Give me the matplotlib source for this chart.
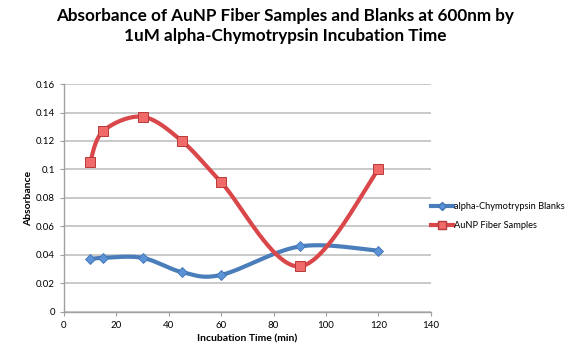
import numpy as np
import matplotlib
matplotlib.use("Agg")
import matplotlib.pyplot as plt
from matplotlib.lines import Line2D

time_min = [10, 15, 30, 45, 60, 90, 120]
blanks = [0.037, 0.038, 0.038, 0.028, 0.026, 0.046, 0.043]
fiber = [0.105, 0.127, 0.137, 0.120, 0.091, 0.032, 0.100]
blank_label = "alpha-Chymotrypsin Blanks"
fiber_label = "AuNP Fiber Samples"
title = "Absorbance of AuNP Fiber Samples and Blanks at 600nm by\n1uM alpha-Chymotrypsin Incubation Time"
x_ticks = [0, 20, 40, 60, 80, 100, 120, 140]
y_ticks = [0, 0.02, 0.04, 0.06, 0.08, 0.1, 0.12, 0.14, 0.16]
y_tick_labels = ["0", "0.02", "0.04", "0.06", "0.08", "0.1", "0.12", "0.14", "0.16"]

plt.rcParams['font.family'] = ['Lato', 'DejaVu Sans']


def smooth(xs, ys, n=40):
    xs = np.asarray(xs, float)
    ys = np.asarray(ys, float)
    P = np.column_stack([xs, ys])
    m = len(P)
    out = []
    for i in range(m - 1):
        p0 = P[i - 1] if i > 0 else P[i]
        p1 = P[i]
        p2 = P[i + 1]
        p3 = P[i + 2] if i + 2 < m else P[i + 1]
        c1 = p1 + (p2 - p0) / 6.0
        c2 = p2 - (p3 - p1) / 6.0
        t = np.linspace(0, 1, n)[:, None]
        seg = ((1 - t) ** 3) * p1 + 3 * ((1 - t) ** 2) * t * c1 + 3 * (1 - t) * t ** 2 * c2 + t ** 3 * p2
        out.append(seg if i == 0 else seg[1:])
    S = np.vstack(out)
    return S[:, 0], S[:, 1]


fig = plt.figure(figsize=(5.7, 3.59), dpi=100)
ax = fig.add_axes([0.112, 0.131, 0.644, 0.635])

blue = "#4a7ebb"
red = "#d9474a"

bx, by = smooth(time_min, blanks)
ax.plot(bx, by, color=blue, lw=3, zorder=3, solid_capstyle='round')
ax.plot(time_min, blanks, ls='none', marker='D', ms=5.5, mfc="#5b93d6", mec="#3f74b5", mew=0.6, zorder=4)
fx, fy = smooth(time_min, fiber)
ax.plot(fx, fy, color=red, lw=3, zorder=3, solid_capstyle='round')
ax.plot(time_min, fiber, ls='none', marker='s', ms=7.5, mfc="#f06a6a", mec="#b83a3a", mew=0.7, zorder=4)

ax.set_xlim(0, 140)
ax.set_ylim(0, 0.16)
ax.set_xticks(x_ticks)
ax.set_yticks(y_ticks)
ax.set_yticklabels(y_tick_labels)
ax.grid(axis='y', color='#c0c0c0', lw=1.2)
ax.set_axisbelow(True)
for s in ['top', 'right']:
    ax.spines[s].set_visible(False)
for s in ['left', 'bottom']:
    ax.spines[s].set_color('#a0a0a0')
    ax.spines[s].set_linewidth(1)
ax.tick_params(axis='both', labelsize=7, colors='#a0a0a0', labelcolor='black', length=3, direction='out')
ax.set_xlabel("Incubation Time (min)", fontsize=7.5, fontweight='bold', labelpad=3)
ax.set_ylabel("Absorbance", fontsize=7.5, fontweight='bold', labelpad=2)

fig.text(0.5, 0.978, title, ha='center', va='top', fontsize=12.3, fontweight='bold', linespacing=1.3,
         multialignment='center')

handles = [
    Line2D([0], [0], color=blue, lw=3, marker='D', ms=4.5, mfc="#5b93d6", mec="#3f74b5"),
    Line2D([0], [0], color=red, lw=3, marker='s', ms=5.5, mfc="#f06a6a", mec="#b83a3a"),
]
fig.legend(handles, [blank_label, fiber_label], loc='center left', bbox_to_anchor=(0.757, 0.398),
           frameon=False, fontsize=6.7, handlelength=2.3, handletextpad=0.1, labelspacing=1.15,
           borderaxespad=0, borderpad=0)

fig.savefig("out.png", dpi=100, facecolor='white')
